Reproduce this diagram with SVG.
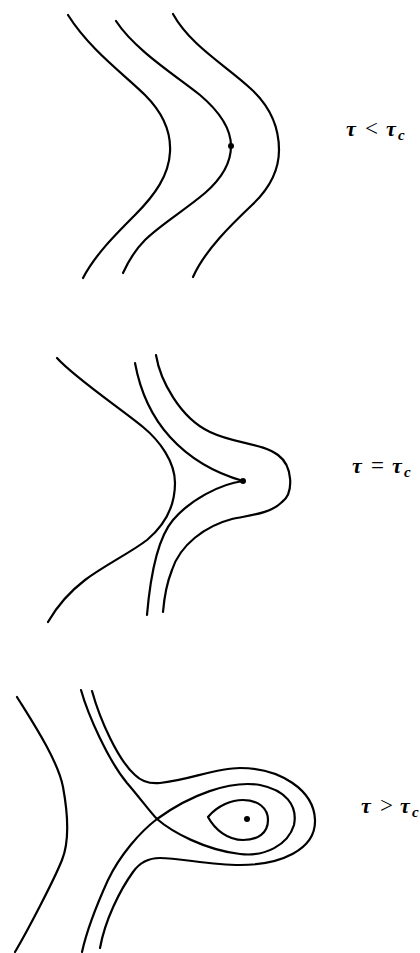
<svg xmlns="http://www.w3.org/2000/svg" width="420" height="953" viewBox="0 0 420 953">
<style>
.c{fill:none;stroke:#000;stroke-width:2.2;stroke-linecap:round;stroke-linejoin:round}
.d{fill:#000}
.lab{font-family:"Liberation Serif","DejaVu Serif",serif;font-size:22px;fill:#000;font-weight:bold}
.m{font-style:italic}
.o{font-weight:normal;font-size:23px}
.s{font-size:15px;font-style:italic}
</style>
<rect width="420" height="953" fill="#fff"/>
<g id="panel1">
<path class="c" d="M68,15 C90,50 125,75 145,95 C165,115 171,135 170,152 C169,175 155,195 135,215 C115,235 95,255 83,278"/>
<path class="c" d="M116,21 C135,50 175,75 200,95 C220,112 231,130 231,146 C231,165 220,180 205,193 C185,210 160,225 145,240 C135,250 128,262 123,273"/>
<path class="c" d="M173,14 C190,45 225,65 250,88 C270,106 279,128 279,150 C279,172 268,190 252,205 C232,224 205,250 193,277"/>
<circle class="d" cx="231" cy="146" r="3"/>
<text class="lab" y="136"><tspan class="m" x="346">τ</tspan><tspan class="o" x="365">&lt;</tspan><tspan class="m" x="386">τ</tspan><tspan class="s" x="398" dy="4">c</tspan></text>
</g>
<g id="panel2">
<path class="c" d="M57,358 C75,378 120,408 143,427 C160,441 175,462 175,483 C175,505 165,525 147,540 C130,553 105,565 85,580 C68,593 56,608 48,622"/>
<path class="c" d="M135,363 C140,390 150,415 170,437 S215,473 243,481"/>
<path class="c" d="M243,481 C220,484 190,500 173,520 S150,580 147,615"/>
<path class="c" d="M156,355 C160,380 180,418 210,432 C235,444 262,443 278,455 C293,466 294,493 282,502 C270,514 250,515 232,519 C205,526 180,545 172,570 C166,585 164,600 163,612"/>
<circle class="d" cx="243" cy="481" r="3"/>
<text class="lab" y="473"><tspan class="m" x="352">τ</tspan><tspan class="o" x="371">=</tspan><tspan class="m" x="392">τ</tspan><tspan class="s" x="404" dy="4">c</tspan></text>
</g>
<g id="panel3">
<path class="c" d="M17,697 C30,718 58,760 63,787 S70,840 62,860 S28,930 15,952"/>
<path class="c" d="M81,690 C88,715 108,760 127,783 C140,798 150,812 157,819 C172,832 205,850 240,854 C265,857 288,845 294,825 C298,805 285,790 260,785 C230,780 190,795 157,819 C140,832 120,855 108,880 C98,902 88,925 82,952"/>
<path class="c" d="M92,691 C100,720 118,760 135,775 C142,782 150,784 160,783 C190,780 215,768 240,768 C280,768 314,790 315,820 C316,850 280,865 240,865 C210,865 180,858 160,858 C150,858 140,862 133,872 C120,890 105,920 100,948"/>
<path class="c" d="M208,817 C218,805 232,800 243,800 C258,800 268,808 268,820 C268,833 258,840 243,840 C228,840 215,830 208,817 Z"/>
<circle class="d" cx="247" cy="819" r="3"/>
<text class="lab" y="813"><tspan class="m" x="361">τ</tspan><tspan class="o" x="380">&gt;</tspan><tspan class="m" x="400">τ</tspan><tspan class="s" x="412" dy="4">c</tspan></text>
</g>
<g id="connectors"/>
</svg>
